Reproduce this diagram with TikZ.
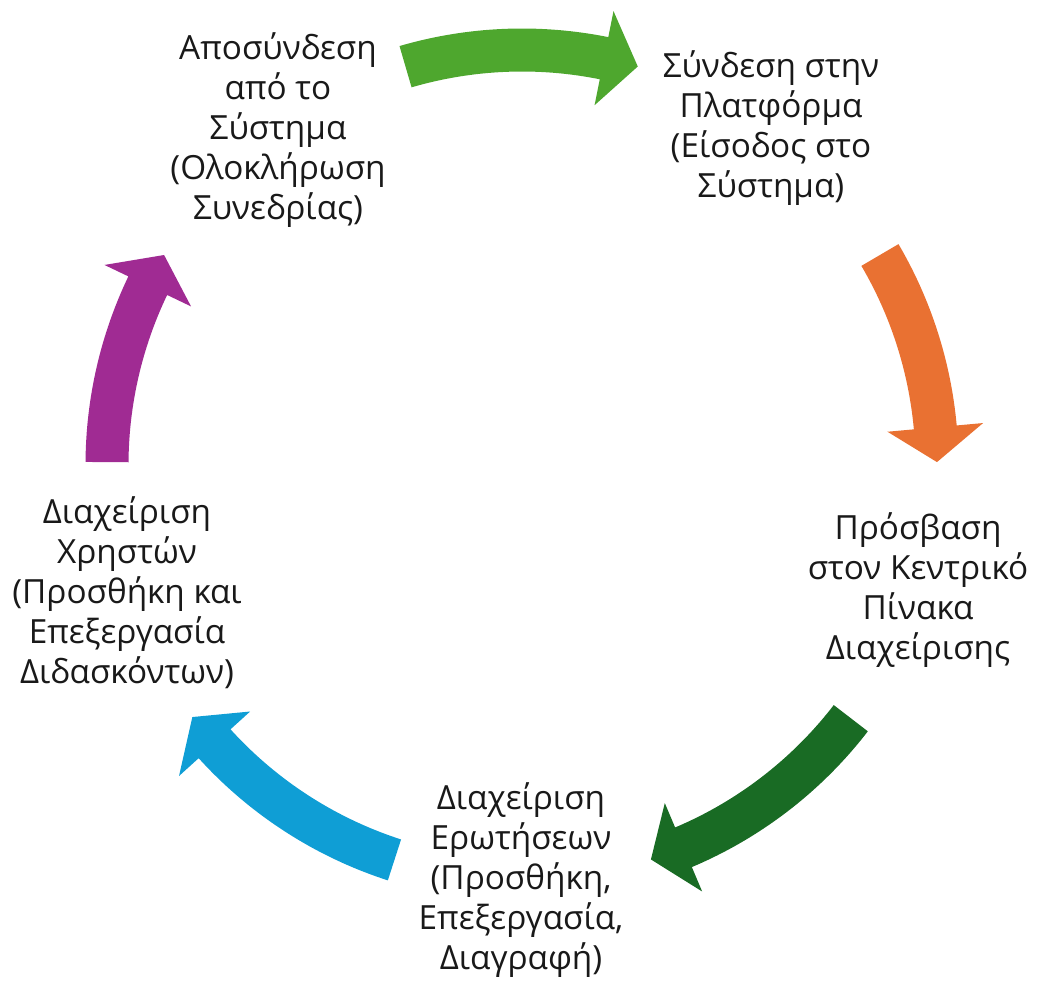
\documentclass[tikz,border=0pt]{standalone}
\usepackage{fontspec}
\setmainfont{Open Sans}

\definecolor{accgreen}{HTML}{4EA72E}
\definecolor{accorange}{HTML}{E97132}
\definecolor{accdkgreen}{HTML}{196B24}
\definecolor{accblue}{HTML}{0F9ED5}
\definecolor{accpurple}{HTML}{A02B93}

% curved block arrow on the ring: colour, tail angle, tip angle
\newcommand{\cyclearrow}[3]{%
  \fill[#1] (#2:436.5) arc[start angle=#2, end angle=#3+4.8, radius=436.5]
    -- (#3+4.8:463) -- (#3:415) -- (#3+4.8:367) -- (#3+4.8:393.5)
    arc[start angle=#3+4.8, end angle=#2, radius=393.5] -- cycle;}

\begin{document}
\begin{tikzpicture}[x=1pt, y=1pt,
    cycletext/.style={align=center, inner sep=0pt, text=black!90,
      font=\fontsize{33.3}{40}\selectfont}]
    \useasboundingbox (0,0) rectangle (1038,983);
    \node[cycletext] (logout) at (278,853) {Αποσύνδεση\\από το\\Σύστημα\\(Ολοκλήρωση\\Συνεδρίας)};
    \node[cycletext] (login) at (771,855) {Σύνδεση στην\\Πλατφόρμα\\(Είσοδος στο\\Σύστημα)};
    \node[cycletext] (panel) at (918,393) {Πρόσβαση\\στον Κεντρικό\\Πίνακα\\Διαχείρισης};
    \node[cycletext] (questions) at (521,103) {Διαχείριση\\Ερωτήσεων\\(Προσθήκη,\\Επεξεργασία,\\Διαγραφή)};
    \node[cycletext] (users) at (127,390) {Διαχείριση\\Χρηστών\\(Προσθήκη και\\Επεξεργασία\\Διδασκόντων)};
    \begin{scope}[shift={(522,518)}]
        \cyclearrow{accgreen}{106.3}{73.8}
        \cyclearrow{accorange}{30.4}{0.4}
        \cyclearrow{accdkgreen}{-37.6}{-71.9}
        \cyclearrow{accblue}{-107.9}{-142.6}
        \cyclearrow{accpurple}{-180.4}{-210.4}
    \end{scope}
\end{tikzpicture}
\end{document}
